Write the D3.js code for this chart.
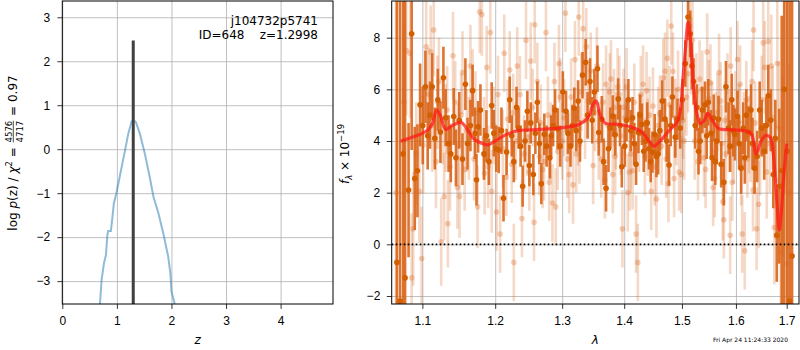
<!DOCTYPE html>
<html>
<head>
<meta charset="UTF-8">
<title>redshift fit</title>
<style>
  body { margin: 0; background: #fff; }
  svg { font-family: "DejaVu Sans", sans-serif; }
  .tick text { font-size: 12px; fill: #000; }
  .tick line { stroke: #000; stroke-width: 0.8; }
  .grid line { stroke: #b0b0b0; stroke-width: 0.8; }
  .grid .domain { display: none; }
</style>
</head>
<body>
<script src="https://d3js.org/d3.v7.min.js"></script>
<script>
// p(z) curve
const zGrid = [0.69, 0.72, 0.764, 0.80, 0.826, 0.84, 0.89, 0.92, 0.945, 0.99, 1.04, 1.09, 1.15, 1.21, 1.27, 1.30,
  1.35, 1.42, 1.51, 1.60, 1.67, 1.76, 1.85, 1.94, 1.98, 2.0, 2.06];
const logPz = [-3.52, -2.97, -2.59, -2.40, -1.95, -1.86, -1.86, -1.53, -1.23, -1.0, -0.70, -0.39, -0.02, 0.36, 0.63, 0.67,
  0.61, 0.36, -0.09, -0.62, -1.08, -1.45, -1.91, -2.44, -2.82, -3.23, -3.52];
const zBest = 1.2998;
const zMarkTop = 2.47;
const zTicks = [0, 1, 2, 3, 4];
const pTicks = [-3, -2, -1, 0, 1, 2, 3];

// spectrum, first set (dark)
const darkLam = [1.067, 1.071, 1.075, 1.0775, 1.082, 1.086, 1.090, 1.0935, 1.097, 1.1005, 1.104, 1.107, 1.110, 1.113, 1.1165,
  1.1205, 1.124, 1.128, 1.131, 1.135, 1.138, 1.142, 1.145, 1.1495, 1.154, 1.158, 1.161, 1.165, 1.168, 1.1715, 1.1735, 1.1757,
  1.179, 1.184, 1.1875, 1.191, 1.195, 1.198, 1.2015, 1.205, 1.209, 1.212, 1.2165, 1.221, 1.224, 1.227, 1.231, 1.234, 1.237,
  1.240, 1.2435, 1.247, 1.250, 1.252, 1.256, 1.259, 1.262, 1.265, 1.268, 1.2725, 1.276, 1.281, 1.283, 1.286, 1.289, 1.293,
  1.297, 1.301, 1.306, 1.309, 1.313, 1.316, 1.319, 1.322, 1.325, 1.328, 1.332, 1.337, 1.340, 1.344, 1.3475, 1.351, 1.356,
  1.358, 1.363, 1.366, 1.370, 1.374, 1.377, 1.381, 1.385, 1.390, 1.393, 1.396, 1.401, 1.404, 1.407, 1.411, 1.414, 1.417,
  1.420, 1.424, 1.427, 1.430, 1.433, 1.436, 1.439, 1.442, 1.445, 1.448, 1.452, 1.455, 1.458, 1.461, 1.465, 1.470, 1.473,
  1.477, 1.480, 1.483, 1.488, 1.492, 1.497, 1.501, 1.506, 1.511, 1.515, 1.518, 1.521, 1.524, 1.527, 1.530, 1.533, 1.537,
  1.542, 1.545, 1.548, 1.553, 1.555, 1.558, 1.561, 1.564, 1.567, 1.572, 1.577, 1.581, 1.586, 1.589, 1.592, 1.595, 1.598,
  1.603, 1.606, 1.610, 1.614, 1.617, 1.620, 1.624, 1.629, 1.632, 1.636, 1.641, 1.646, 1.650, 1.655, 1.659, 1.663, 1.668,
  1.673, 1.677, 1.680, 1.685, 1.690, 1.695, 1.701, 1.706, 1.711];
const darkFlux = [-0.7, -2.2, 3.5, -1.3, 2.1, 8.15, 2.55, 2.85, 5.4, 4.6, 6.1, 4.2, 5.0, 6.1, 4.1,
  5.6, 4.35, 6.45, 4.9, 3.9, 3.5, 4.95, 3.35, 4.8, 3.3, 6.2, 3.9, 4.6, 5.95, 4.3, 2.5, 4.55,
  5.2, 3.5, 4.2, 3.2, 5.37, 4.3, 3.7, 3.65, 4.4, 1.78, 3.57, 5.6, 4.2, 3.2, 5.3, 4.5, 3.8,
  2.25, 4.0, 5.15, 3.05, 4.7, 2.7, 4.3, 5.5, 3.9, 2.35, 4.26, 3.8, 3.35, 4.2, 4.6, 5.2, 4.47,
  3.8, 5.9, 5.15, 4.3, 3.8, 4.6, 5.27, 4.4, 5.55, 4.0, 6.55, 7.05, 5.0, 6.3, 4.8, 5.9, 6.8,
  4.33, 4.84, 3.2, 2.17, 3.7, 4.5, 4.97, 4.24, 5.63, 4.6, 3.0, 3.8, 4.8, 5.6, 4.4, 4.9, 3.9,
  3.1, 4.33, 5.0, 4.65, 3.6, 4.0, 4.7, 3.7, 3.2, 3.57, 4.25, 3.4, 3.5, 4.4, 5.55, 4.85, 4.0,
  3.07, 4.6, 5.7, 4.15, 4.85, 4.5, 5.6, 7.0, 8.8, 8.15, 6.9, 6.3, 4.6, 5.3, 3.6, 4.0, 5.2,
  5.4, 4.2, 5.5, 4.3, 3.35, 4.9, 3.2, 4.0, 4.85, 3.1, 2.4, 6.1, 4.5, 3.8, 5.6, 4.4, 4.25,
  4.95, 3.9, 2.95, 4.5, 3.35, 5.0, 4.35, 5.2, 3.9, 2.95, 3.4, 5.2, 4.5, 3.6, 4.6, 5.75, 4.8,
  2.7, 4.1, 0.35, 2.25, 2.85, 6.0, 3.6, -2.2, -0.45];
const darkErr = [12, 12, 10, 12, 2.6, 4.5, 2.0, 1.8, 1.6, 1.5, 1.4, 1.3, 1.3, 1.3, 1.2,
  1.2, 1.2, 1.2, 1.1, 1.1, 1.1, 1.1, 1.1, 1.1, 1.0, 1.0, 1.0, 1.0, 1.0, 1.0, 1.0, 1.0,
  1.0, 1.0, 1.0, 0.9, 0.9, 0.9, 0.9, 0.9, 0.9, 0.9, 0.9, 0.9, 0.8, 0.8, 0.8, 0.8, 0.8,
  0.8, 0.8, 0.8, 0.8, 0.8, 0.8, 0.8, 0.8, 0.8, 0.8, 0.8, 0.8, 0.8, 0.8, 0.8, 0.8, 0.8,
  0.8, 0.8, 0.8, 0.8, 0.8, 0.8, 0.8, 0.8, 0.8, 0.8, 0.9, 0.9, 0.9, 0.9, 0.9, 0.9, 0.9,
  0.9, 0.9, 0.9, 0.9, 0.9, 0.8, 0.8, 0.8, 0.8, 0.8, 0.8, 0.8, 0.8, 0.8, 0.8, 0.8, 0.8,
  0.8, 0.8, 0.8, 0.8, 0.8, 0.8, 0.8, 0.8, 0.8, 0.8, 0.8, 0.8, 0.8, 0.8, 0.8, 0.8, 0.8,
  0.8, 0.8, 0.8, 0.8, 0.8, 0.8, 0.8, 0.9, 0.9, 0.9, 0.9, 0.9, 0.9, 0.9, 0.9, 0.9, 0.9,
  0.9, 0.9, 0.9, 0.9, 0.9, 0.9, 0.9, 0.9, 0.9, 0.9, 0.9, 1.0, 1.0, 1.0, 1.0, 1.0, 1.0,
  1.0, 1.0, 1.0, 1.0, 1.0, 1.0, 1.0, 1.0, 1.0, 1.0, 1.0, 1.1, 1.1, 1.1, 1.1, 1.2, 1.2,
  1.3, 1.5, 1.8, 3.0, 6, 14, 14, 14, 14];

// spectrum, second set (light)
const lightLam = [1.066, 1.076, 1.079, 1.084, 1.086, 1.088, 1.092, 1.096, 1.099, 1.101, 1.105, 1.108, 1.111, 1.113, 1.115,
  1.118, 1.120, 1.122, 1.125, 1.127, 1.129, 1.131, 1.133, 1.134, 1.137, 1.141, 1.144, 1.147, 1.148, 1.150, 1.152, 1.154,
  1.157, 1.160, 1.163, 1.165, 1.168, 1.170, 1.172, 1.175, 1.178, 1.181, 1.184, 1.185, 1.188, 1.190, 1.193, 1.195, 1.198,
  1.202, 1.204, 1.207, 1.211, 1.213, 1.216, 1.218, 1.221, 1.224, 1.226, 1.227, 1.230, 1.232, 1.236, 1.239, 1.242, 1.245,
  1.247, 1.250, 1.252, 1.255, 1.257, 1.258, 1.262, 1.265, 1.267, 1.270, 1.272, 1.275, 1.278, 1.280, 1.282, 1.285, 1.288,
  1.290, 1.293, 1.295, 1.297, 1.300, 1.303, 1.305, 1.308, 1.311, 1.314, 1.317, 1.320, 1.322, 1.325, 1.326, 1.327, 1.330,
  1.333, 1.336, 1.338, 1.341, 1.345, 1.349, 1.352, 1.355, 1.358, 1.362, 1.365, 1.368, 1.370, 1.373, 1.376, 1.378, 1.381,
  1.383, 1.385, 1.386, 1.389, 1.392, 1.394, 1.397, 1.399, 1.401, 1.404, 1.406, 1.409, 1.411, 1.414, 1.417, 1.420, 1.423,
  1.425, 1.428, 1.432, 1.435, 1.438, 1.440, 1.443, 1.446, 1.449, 1.452, 1.455, 1.458, 1.461, 1.464, 1.467, 1.470, 1.472,
  1.474, 1.476, 1.478, 1.481, 1.484, 1.486, 1.488, 1.490, 1.493, 1.495, 1.499, 1.502, 1.504, 1.508, 1.511, 1.514, 1.517,
  1.519, 1.523, 1.526, 1.529, 1.532, 1.535, 1.537, 1.540, 1.543, 1.546, 1.549, 1.552, 1.555, 1.557, 1.560, 1.562, 1.565,
  1.568, 1.571, 1.573, 1.575, 1.577, 1.579, 1.581, 1.584, 1.587, 1.589, 1.590, 1.593, 1.596, 1.599, 1.603, 1.606, 1.608,
  1.610, 1.612, 1.615, 1.617, 1.620, 1.622, 1.625, 1.628, 1.631, 1.633, 1.634, 1.637, 1.640, 1.644, 1.647, 1.650, 1.653,
  1.656, 1.660, 1.663, 1.666, 1.669, 1.672, 1.675, 1.678, 1.681, 1.684, 1.688, 1.692, 1.697, 1.701, 1.705];
const lightFlux = [2.0, 5.5, 7.5, 7.4, -1.3, 0.6, 3.5, 2.05, -0.55, 3.85, 7.65, 5.8, 7.45, 4.6, 8.3,
  3.2, 5.5, 6.3, 0.1, 4.8, 1.85, 4.5, 5.2, 0.8, 3.0, 7.3, 5.5, 2.2, 3.85, 1.85, 5.0, 6.65,
  2.9, 4.4, 4.1, 6.9, 5.95, 3.3, 5.1, 1.45, 9.0, 8.9, 4.1, 2.75, 6.85, 3.0, 8.2, 2.05, 4.6,
  1.25, 5.8, 0.4, 3.7, 7.4, 2.6, 4.85, 6.75, 3.1, 5.1, -0.7, 4.0, 6.9, 5.8, 1.0, 3.5, 7.9,
  4.15, 2.8, 7.1, 5.3, 0.85, 8.5, 6.3, 3.4, 4.7, 2.9, 3.2, 8.2, 5.0, 2.4, 4.0, 1.6, 6.3,
  1.45, 3.6, 7.0, 5.7, 4.0, 4.9, 8.95, 3.3, 2.7, 5.7, 2.3, 7.15, 3.5, 4.55, 8.8, 3.85, 5.9,
  8.35, 4.8, 7.65, 5.55, 6.7, 3.05, 5.1, 6.9, 4.0, 3.3, 5.5, 2.5, 6.2, 4.6, 5.9, 6.4, 2.7,
  5.3, 3.4, 4.4, 6.1, 5.8, 4.2, 0.6, 5.3, 4.9, 6.1, 2.0, 2.8, 3.5, 2.85, 5.5, 0.4, -0.7,
  4.3, 5.8, 6.2, 3.4, 5.95, 4.15, 5.0, 2.05, 5.35, 3.0, 1.75, 4.6, 5.05, 3.8, 6.45, 6.7, 3.3,
  7.2, 2.35, 5.4, 8.45, 6.7, 2.55, 4.9, 4.55, 6.0, 2.8, 2.7, 4.8, 4.0, 5.7, 6.6, 8.45, 7.3,
  7.9, 4.0, 5.9, 3.2, 6.4, 4.6, 6.0, 3.35, 2.9, 7.45, 5.65, 6.25, 4.8, 2.2, 2.55, 4.4, 5.1,
  6.65, 5.55, 3.9, 1.65, 0.95, 4.8, 3.5, 5.9, 4.3, 0.35, 6.9, 2.4, 3.85, 5.2, 7.15, 4.7, 6.2,
  3.0, 0.4, 4.4, -0.25, 5.6, 3.3, 4.25, 3.9, 6.3, 2.1, 8.3, 4.7, 0.6, 1.55, 3.6, 5.6, 7.8,
  6.85, 2.8, 7.85, 3.9, 6.9, 4.9, 0.65, 2.5, 7.0, 4.5, -0.3, 3.0, 6.0, -0.75, 2.0];
const lightErr = [12, 3.0, 2.5, 2.5, 2.5, 2.2, 2.0, 2.0, 2.0, 1.9, 1.9, 1.8, 1.8, 1.8, 1.8,
  1.8, 1.8, 1.7, 1.7, 1.7, 1.7, 1.7, 1.7, 1.7, 1.7, 1.7, 1.6, 1.6, 1.6, 1.6, 1.6, 1.6,
  1.6, 1.6, 1.6, 1.6, 1.6, 1.6, 1.6, 1.6, 1.6, 1.6, 1.6, 1.6, 1.6, 1.6, 1.6, 1.6, 1.5,
  1.5, 1.5, 1.5, 1.5, 1.5, 1.5, 1.5, 1.5, 1.5, 1.5, 1.5, 1.5, 1.5, 1.5, 1.5, 1.5, 1.5,
  1.5, 1.5, 1.5, 1.5, 1.5, 1.5, 1.5, 1.5, 1.5, 1.5, 1.5, 1.5, 1.5, 1.5, 1.5, 1.5, 1.5,
  1.5, 1.5, 1.5, 1.5, 1.5, 1.5, 1.5, 1.5, 1.5, 1.5, 1.5, 1.5, 1.5, 1.5, 1.5, 1.5, 1.5,
  1.5, 1.5, 1.5, 1.5, 1.5, 1.5, 1.5, 1.5, 1.5, 1.5, 1.5, 1.5, 1.5, 1.5, 1.5, 1.5, 1.5,
  1.5, 1.5, 1.5, 1.5, 1.5, 1.5, 1.5, 1.5, 1.5, 1.5, 1.5, 1.5, 1.5, 1.5, 1.5, 1.5, 1.5,
  1.5, 1.5, 1.5, 1.5, 1.5, 1.5, 1.5, 1.5, 1.5, 1.5, 1.5, 1.5, 1.5, 1.5, 1.5, 1.5, 1.5,
  1.5, 1.5, 1.5, 1.5, 1.5, 1.5, 1.5, 1.5, 1.5, 1.5, 1.5, 1.5, 1.5, 1.5, 1.5, 1.5, 1.5,
  1.5, 1.5, 1.5, 1.5, 1.5, 1.5, 1.5, 1.5, 1.5, 1.5, 1.5, 1.5, 1.5, 1.5, 1.5, 1.5, 1.5,
  1.5, 1.5, 1.5, 1.5, 1.5, 1.5, 1.5, 1.5, 1.5, 1.5, 1.5, 1.5, 1.5, 1.5, 1.5, 1.5, 1.5,
  1.5, 1.5, 1.5, 1.5, 1.5, 1.5, 1.5, 1.5, 1.6, 1.6, 1.6, 1.6, 1.6, 1.7, 1.7, 1.7, 1.8,
  1.8, 1.8, 1.9, 1.9, 2.0, 2.0, 2.2, 2.3, 2.5, 2.6, 3.0, 3.5, 4, 4, 5];

// best-fit model
const modelLam = [1.0716, 1.092, 1.106, 1.113, 1.119, 1.124, 1.131, 1.140, 1.152, 1.159, 1.170, 1.184, 1.19, 1.2, 1.213,
  1.233, 1.253, 1.278, 1.304, 1.325, 1.341, 1.349, 1.354, 1.36, 1.369, 1.39, 1.413, 1.43, 1.442, 1.45, 1.462, 1.477,
  1.491, 1.497, 1.501, 1.506, 1.511, 1.515, 1.521, 1.527, 1.533, 1.541, 1.547, 1.555, 1.567, 1.592, 1.617, 1.63, 1.639,
  1.649, 1.658, 1.667, 1.673, 1.680, 1.685, 1.689, 1.694, 1.70];
const modelFlux = [3.99, 4.2, 4.4, 4.65, 5.2, 4.98, 4.45, 4.6, 4.72, 4.52, 4.08, 3.88, 3.85, 4.0, 4.21,
  4.4, 4.43, 4.47, 4.53, 4.63, 4.91, 5.42, 5.55, 5.04, 4.68, 4.65, 4.53, 4.34, 4.01, 3.8, 4.01, 4.4,
  4.72, 5.17, 6.2, 7.49, 8.6, 8.0, 6.1, 5.07, 4.68, 4.81, 5.07, 4.81, 4.49, 4.43, 4.4, 4.27, 3.5,
  4.01, 4.21, 4.14, 3.5, 1.7, 0.55, 1.2, 2.62, 3.9];
const lamTicks = [1.1, 1.2, 1.3, 1.4, 1.5, 1.6, 1.7];
const fluxTicks = [-2, 0, 2, 4, 6, 8];

const W = 800, H = 350;
const svg = d3.select("body").append("svg").attr("width", W).attr("height", H);
const defs = svg.append("defs");

// ---------- left panel ----------
const L = {x0: 62.3, x1: 333, y0: 1, y1: 304};
const xz = d3.scaleLinear().domain([0, 4.96]).range([L.x0, L.x1]);
const yp = d3.scaleLinear().domain([-3.52, 3.37]).range([L.y1, L.y0]);

defs.append("clipPath").attr("id", "clipL").append("rect")
  .attr("x", L.x0).attr("y", L.y0).attr("width", L.x1 - L.x0).attr("height", L.y1 - L.y0);

svg.append("g").attr("class", "grid").attr("transform", `translate(0,${L.y1})`)
  .call(d3.axisBottom(xz).tickValues(zTicks).tickSize(-(L.y1 - L.y0)).tickFormat(""));
svg.append("g").attr("class", "grid").attr("transform", `translate(${L.x0},0)`)
  .call(d3.axisLeft(yp).tickValues(pTicks).tickSize(-(L.x1 - L.x0)).tickFormat(""));

const gl = svg.append("g").attr("clip-path", "url(#clipL)");
gl.append("path")
  .datum(zGrid.map((z, i) => [z, logPz[i]]))
  .attr("d", d3.line().x(d => xz(d[0])).y(d => yp(d[1])))
  .attr("fill", "none").attr("stroke", "#1f77b4").attr("stroke-opacity", 0.5).attr("stroke-width", 2);
gl.append("line")
  .attr("x1", xz(zBest)).attr("x2", xz(zBest))
  .attr("y1", yp(zMarkTop)).attr("y2", L.y1)
  .attr("stroke", "#404040").attr("stroke-width", 3);

const axL = svg.append("g").attr("transform", `translate(${L.x0},0)`)
  .call(d3.axisLeft(yp).tickValues(pTicks).tickSize(4.9).tickPadding(7.2).tickFormat(d3.format("d")));
const axB = svg.append("g").attr("transform", `translate(0,${L.y1})`)
  .call(d3.axisBottom(xz).tickValues(zTicks).tickSize(4.9).tickPadding(7.5).tickFormat(d3.format("d")));
[axL, axB].forEach(a => a.select(".domain").remove());
svg.append("rect").attr("x", L.x0).attr("y", L.y0).attr("width", L.x1 - L.x0).attr("height", L.y1 - L.y0)
  .attr("fill", "none").attr("stroke", "#000").attr("stroke-width", 1);

svg.append("text").attr("x", 318).attr("y", 25).attr("text-anchor", "end").style("font-size", "12px")
  .text("j104732p5741");
svg.append("text").attr("x", 318).attr("y", 38.5).attr("text-anchor", "end").style("font-size", "12px")
  .attr("xml:space", "preserve").text("ID=648    z=1.2998");

svg.append("text").attr("x", (L.x0 + L.x1) / 2).attr("y", 344).attr("text-anchor", "middle")
  .style("font-size", "12px").style("font-style", "italic").text("z");

// y label with stacked fraction
const yl = svg.append("g");
let cx = 0;
function part(txt, opt = {}) {
  const t = yl.append("text").attr("x", cx).attr("y", opt.dy || 0)
    .style("font-size", (opt.size || 12) + "px")
    .style("font-style", opt.italic ? "italic" : null)
    .attr("xml:space", "preserve").text(txt);
  cx += t.node().getComputedTextLength();
}
part("log ");
part("p", {italic: true});
part("(z) / ");
part("χ", {italic: true});
part("2", {size: 8.5, dy: -5});
part(" = ");
const fx = cx + 1;
const num = yl.append("text").attr("x", fx).attr("y", -5).style("font-size", "8.5px").text("4576");
const den = yl.append("text").attr("x", fx).attr("y", 6).style("font-size", "8.5px").text("4717");
const fw = Math.max(num.node().getComputedTextLength(), den.node().getComputedTextLength());
yl.append("line").attr("x1", fx).attr("x2", fx + fw).attr("y1", -3.2).attr("y2", -3.2)
  .attr("stroke", "#000").attr("stroke-width", 0.7);
cx = fx + fw + 1;
part(" = 0.97");
yl.attr("transform", `translate(16.5,${153 + cx / 2}) rotate(-90)`);

// ---------- right panel ----------
const R = {x0: 391.7, x1: 799, y0: 1, y1: 304};
const xl = d3.scaleLog().domain([1.0604, 1.7252]).range([R.x0, R.x1]);
const yf = d3.scaleLinear().domain([-2.31, 9.42]).range([R.y1, R.y0]);

defs.append("clipPath").attr("id", "clipR").append("rect")
  .attr("x", R.x0).attr("y", R.y0).attr("width", R.x1 - R.x0).attr("height", R.y1 - R.y0);

svg.append("g").attr("class", "grid").attr("transform", `translate(0,${R.y1})`)
  .call(d3.axisBottom(xl).tickValues(lamTicks).tickSize(-(R.y1 - R.y0)).tickFormat(""));
svg.append("g").attr("class", "grid").attr("transform", `translate(${R.x0},0)`)
  .call(d3.axisLeft(yf).tickValues(fluxTicks).tickSize(-(R.x1 - R.x0)).tickFormat(""));

const gr = svg.append("g").attr("clip-path", "url(#clipR)");
const orange = "#d9651a";

function errSeries(lam, flux, err, barOp, dotOp, dotCol) {
  const data = lam.map((l, i) => ({l, f: flux[i], e: err[i]}));
  const g = gr.append("g");
  g.selectAll("line").data(data).join("line")
    .attr("x1", d => xl(d.l)).attr("x2", d => xl(d.l))
    .attr("y1", d => yf(d.f - d.e)).attr("y2", d => yf(d.f + d.e))
    .attr("stroke", orange).attr("stroke-opacity", barOp).attr("stroke-width", 2.6);
  g.selectAll("circle").data(data).join("circle")
    .attr("cx", d => xl(d.l)).attr("cy", d => yf(d.f)).attr("r", 2.8)
    .attr("fill", dotCol).attr("fill-opacity", dotOp);
}
errSeries(lightLam, lightFlux, lightErr, 0.25, 0.3, orange);
errSeries(darkLam, darkFlux, darkErr, 0.9, 1, "#d45f00");

gr.append("path")
  .datum(modelLam.map((l, i) => [l, modelFlux[i]]))
  .attr("d", d3.line().curve(d3.curveCatmullRom).x(d => xl(d[0])).y(d => yf(d[1])))
  .attr("fill", "none").attr("stroke", "#ff1a1a").attr("stroke-opacity", 0.75).attr("stroke-width", 3.2);

gr.append("line").attr("x1", R.x0).attr("x2", R.x1).attr("y1", yf(0)).attr("y2", yf(0))
  .attr("stroke", "#000").attr("stroke-width", 1.6).attr("stroke-dasharray", "1.6,2.4");

const axR = svg.append("g").attr("transform", `translate(${R.x0},0)`)
  .call(d3.axisLeft(yf).tickValues(fluxTicks).tickSize(4.9).tickPadding(6.5).tickFormat(d3.format("d")));
const axRB = svg.append("g").attr("transform", `translate(0,${R.y1})`)
  .call(d3.axisBottom(xl).tickValues(lamTicks).tickSize(4.9).tickPadding(7.5).tickFormat(d3.format(".1f")));
[axR, axRB].forEach(a => a.select(".domain").remove());
svg.append("rect").attr("x", R.x0).attr("y", R.y0).attr("width", R.x1 - R.x0).attr("height", R.y1 - R.y0)
  .attr("fill", "none").attr("stroke", "#000").attr("stroke-width", 1);

svg.append("text").attr("x", (R.x0 + R.x1) / 2).attr("y", 344).attr("text-anchor", "middle")
  .style("font-size", "12px").style("font-style", "italic").text("λ");

const yr = svg.append("text").attr("transform", `translate(348.5,154) rotate(-90)`)
  .attr("text-anchor", "middle").style("font-size", "12px");
yr.append("tspan").style("font-style", "italic").text("f");
yr.append("tspan").attr("dy", 3).style("font-size", "8.5px").style("font-style", "italic").text("λ");
yr.append("tspan").attr("dy", -3).attr("xml:space", "preserve").text(" × 10");
yr.append("tspan").attr("dy", -5).style("font-size", "8.5px").text("−19");

svg.append("text").attr("x", 788).attr("y", 342).attr("text-anchor", "end")
  .style("font-size", "6px").text("Fri Apr 24 11:24:33 2020");
</script>
</body>
</html>
